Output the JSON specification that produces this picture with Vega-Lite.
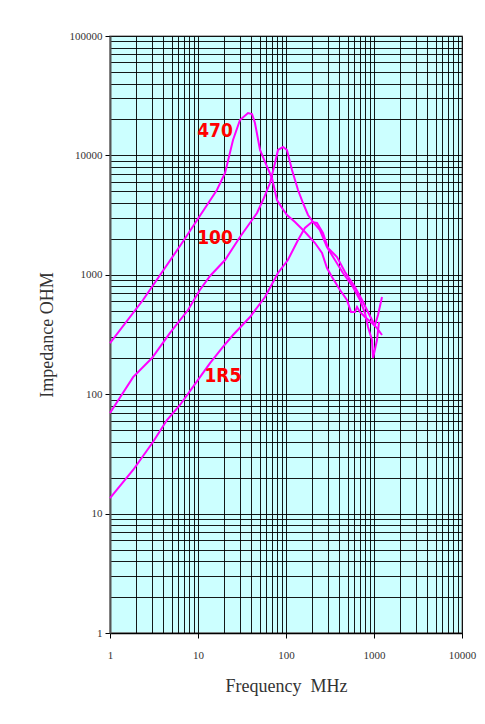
{
  "$schema": "https://vega.github.io/schema/vega-lite/v6.json",
  "autosize": "none",
  "width": 352,
  "height": 597,
  "padding": {"left": 110, "top": 36, "right": 23, "bottom": 91},
  "background": "white",
  "config": {
    "view": {"fill": "#ccffff", "stroke": "#999999", "strokeWidth": 1.5},
    "axis": {"labelFont": "Liberation Serif", "titleFont": "Liberation Serif", "labelColor": "#333", "titleColor": "#333", "titleFontWeight": "normal", "labelFontSize": 11, "titleFontSize": 18}
  },
  "datasets": {
    "curves": [
      {"s": "470", "f": 1, "z": 268},
      {"s": "470", "f": 2.37, "z": 615},
      {"s": "470", "f": 6.58, "z": 1846},
      {"s": "470", "f": 16.4, "z": 5130},
      {"s": "470", "f": 20.3, "z": 7125},
      {"s": "470", "f": 25, "z": 13460},
      {"s": "470", "f": 30, "z": 19790},
      {"s": "470", "f": 37, "z": 22650},
      {"s": "470", "f": 41.1, "z": 22220},
      {"s": "470", "f": 44.4, "z": 18680},
      {"s": "470", "f": 50.7, "z": 11100},
      {"s": "470", "f": 57.7, "z": 8810},
      {"s": "470", "f": 69.3, "z": 6470},
      {"s": "470", "f": 79, "z": 4230},
      {"s": "470", "f": 90.1, "z": 3625},
      {"s": "470", "f": 102.6, "z": 3170},
      {"s": "470", "f": 126.5, "z": 2770},
      {"s": "470", "f": 164.4, "z": 2282},
      {"s": "470", "f": 213.6, "z": 1846},
      {"s": "470", "f": 256.6, "z": 1523},
      {"s": "470", "f": 292.4, "z": 1140},
      {"s": "470", "f": 333.3, "z": 959},
      {"s": "470", "f": 411, "z": 746},
      {"s": "470", "f": 493, "z": 615},
      {"s": "470", "f": 548, "z": 488},
      {"s": "470", "f": 608, "z": 488},
      {"s": "470", "f": 641, "z": 537},
      {"s": "470", "f": 693, "z": 488},
      {"s": "470", "f": 790, "z": 443},
      {"s": "470", "f": 949, "z": 395},
      {"s": "470", "f": 1082, "z": 358},
      {"s": "470", "f": 1233, "z": 313},
      {"s": "100", "f": 1, "z": 69.6},
      {"s": "100", "f": 1.83, "z": 139},
      {"s": "100", "f": 3.0, "z": 201},
      {"s": "100", "f": 4.81, "z": 326},
      {"s": "100", "f": 7.7, "z": 507},
      {"s": "100", "f": 10.5, "z": 746},
      {"s": "100", "f": 13.7, "z": 977},
      {"s": "100", "f": 20.3, "z": 1330},
      {"s": "100", "f": 30, "z": 2074},
      {"s": "100", "f": 46.8, "z": 3294},
      {"s": "100", "f": 54.8, "z": 4230},
      {"s": "100", "f": 65.8, "z": 5870},
      {"s": "100", "f": 75, "z": 8635},
      {"s": "100", "f": 81.1, "z": 11100},
      {"s": "100", "f": 92.5, "z": 11750},
      {"s": "100", "f": 102.6, "z": 11100},
      {"s": "100", "f": 117, "z": 7550},
      {"s": "100", "f": 137, "z": 5130},
      {"s": "100", "f": 156, "z": 3993},
      {"s": "100", "f": 178, "z": 3170},
      {"s": "100", "f": 203, "z": 2770},
      {"s": "100", "f": 243, "z": 2372},
      {"s": "100", "f": 292, "z": 1710},
      {"s": "100", "f": 360, "z": 1330},
      {"s": "100", "f": 444, "z": 1035},
      {"s": "100", "f": 577, "z": 790},
      {"s": "100", "f": 693, "z": 615},
      {"s": "100", "f": 790, "z": 479},
      {"s": "100", "f": 855, "z": 366},
      {"s": "100", "f": 949, "z": 284},
      {"s": "100", "f": 975, "z": 201},
      {"s": "100", "f": 1082, "z": 284},
      {"s": "100", "f": 1140, "z": 403},
      {"s": "1R5", "f": 1, "z": 13.5},
      {"s": "1R5", "f": 1.83, "z": 23.2},
      {"s": "1R5", "f": 3.08, "z": 39.8},
      {"s": "1R5", "f": 4.44, "z": 60.8},
      {"s": "1R5", "f": 6.24, "z": 81.2},
      {"s": "1R5", "f": 8.77, "z": 115},
      {"s": "1R5", "f": 13.7, "z": 182},
      {"s": "1R5", "f": 19.2, "z": 249},
      {"s": "1R5", "f": 25, "z": 313},
      {"s": "1R5", "f": 39, "z": 443},
      {"s": "1R5", "f": 57.7, "z": 652},
      {"s": "1R5", "f": 81.1, "z": 1035},
      {"s": "1R5", "f": 105, "z": 1330},
      {"s": "1R5", "f": 137, "z": 1955},
      {"s": "1R5", "f": 164, "z": 2466},
      {"s": "1R5", "f": 197, "z": 2770},
      {"s": "1R5", "f": 225, "z": 2715},
      {"s": "1R5", "f": 263, "z": 2240},
      {"s": "1R5", "f": 300, "z": 1676},
      {"s": "1R5", "f": 380, "z": 1410},
      {"s": "1R5", "f": 468, "z": 1056},
      {"s": "1R5", "f": 608, "z": 790},
      {"s": "1R5", "f": 731, "z": 615},
      {"s": "1R5", "f": 832, "z": 507},
      {"s": "1R5", "f": 949, "z": 418},
      {"s": "1R5", "f": 1027, "z": 380},
      {"s": "1R5", "f": 1110, "z": 461},
      {"s": "1R5", "f": 1233, "z": 652}
    ],
    "labels": [
      {"t": "470", "f": 15.6, "z": 16000},
      {"t": "100", "f": 15.6, "z": 2033},
      {"t": "1R5", "f": 19.2, "z": 142}
    ]
  },
  "layer": [
    {
      "data": {"name": "curves"},
      "mark": {"type": "line", "strokeWidth": 2, "color": "#ff00ff"},
      "encoding": {
        "x": {
          "field": "f", "type": "quantitative",
          "scale": {"type": "log", "domain": [1, 10000], "nice": false},
          "axis": {
            "title": "Frequency\u00a0 MHz",
            "values": [1,2,3,4,5,6,7,8,9,10,20,30,40,50,60,70,80,90,100,200,300,400,500,600,700,800,900,1000,2000,3000,4000,5000,6000,7000,8000,9000,10000],
            "labelExpr": "indexof([1,10,100,1000,10000], datum.value) >= 0 ? datum.value : ''",
            "grid": true, "gridColor": "#000000", "gridWidth": 1, "gridOpacity": 0.9,
            "tickColor": "#000", "tickSize": 5,
            "tickOpacity": {"condition": {"test": "indexof([1,10,100,1000,10000], datum.value) >= 0", "value": 1}, "value": 0},
            "domainColor": "#000", "domainWidth": 1.5,
            "labelPadding": 11, "titlePadding": 17, "labelFlush": false, "labelOverlap": false
          }
        },
        "y": {
          "field": "z", "type": "quantitative",
          "scale": {"type": "log", "domain": [1, 100000], "nice": false},
          "axis": {
            "title": "Impedance OHM",
            "values": [1,2,3,4,5,6,7,8,9,10,20,30,40,50,60,70,80,90,100,200,300,400,500,600,700,800,900,1000,2000,3000,4000,5000,6000,7000,8000,9000,10000,20000,30000,40000,50000,60000,70000,80000,90000,100000],
            "labelExpr": "indexof([1,10,100,1000,10000,100000], datum.value) >= 0 ? datum.value : ''",
            "grid": true, "gridColor": "#000000", "gridWidth": 1, "gridOpacity": 0.9,
            "tickColor": "#000", "tickSize": 5,
            "tickOpacity": {"condition": {"test": "indexof([1,10,100,1000,10000,100000], datum.value) >= 0", "value": 1}, "value": 0},
            "domainColor": "#555", "domainWidth": 2,
            "labelPadding": 3, "titlePadding": 13, "labelFlush": false, "labelOverlap": false
          }
        },
        "detail": {"field": "s"}
      }
    },
    {
      "data": {"name": "labels"},
      "mark": {"type": "text", "font": "DejaVu Sans Condensed", "fontWeight": "bold", "fontSize": 19, "color": "#ff0000", "align": "center", "baseline": "middle"},
      "encoding": {
        "x": {"field": "f", "type": "quantitative"},
        "y": {"field": "z", "type": "quantitative"},
        "text": {"field": "t"}
      }
    }
  ]
}
